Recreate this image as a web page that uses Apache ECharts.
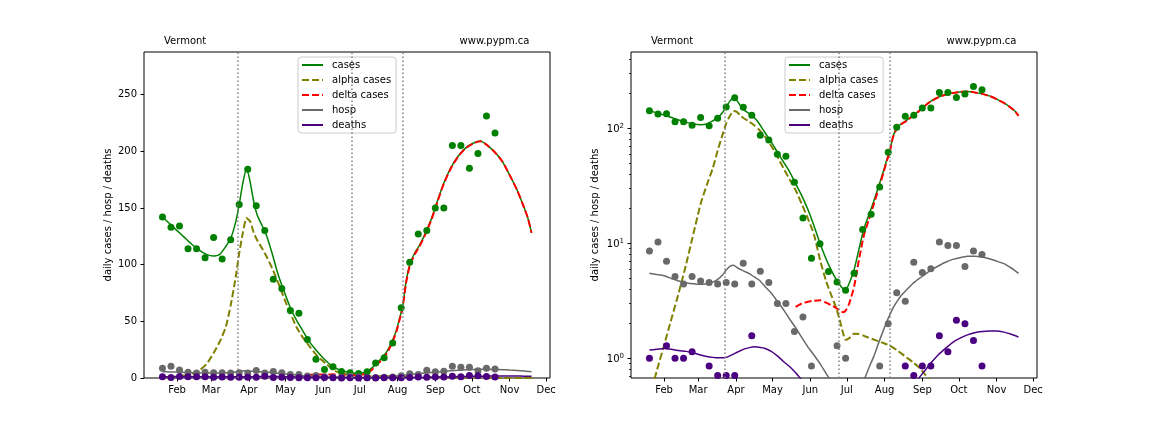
<!DOCTYPE html>
<html><head><meta charset="utf-8">
<script src="https://cdn.jsdelivr.net/npm/echarts@6/dist/echarts.min.js"></script>
<style>html,body{margin:0;padding:0;background:#fff}#c{width:1152px;height:432px}</style>
</head><body><div id="c"></div>
<script>
// ---- data (x = day of year 2021, 0 = Jan 1) ----
const monthTickDays = [31, 59, 90, 120, 151, 181, 212, 243, 273, 304, 334];
const monthTickLabels = ['Feb', 'Mar', 'Apr', 'May', 'Jun', 'Jul', 'Aug', 'Sep', 'Oct', 'Nov', 'Dec'];
const linearTicks = [0, 50, 100, 150, 200, 250];
const logMajorTicks = [1, 10, 100];
const logMinorTicks = [0.7, 0.8, 0.9, 2, 3, 4, 5, 6, 7, 8, 9, 20, 30, 40, 50, 60, 70, 80, 90, 200, 300, 400];
const breakDays = [81, 174, 216];
const legendNames = ['cases', 'alpha cases', 'delta cases', 'hosp', 'deaths'];
const regionName = 'Vermont';
const siteName = 'www.pypm.ca';
const yTitle = 'daily cases / hosp / deaths';

const dotDays = [19, 26, 33, 40, 47, 54, 61, 68, 75, 82, 89, 96, 103, 110, 117, 124, 131, 138, 145, 152,
  159, 166, 173, 180, 187, 194, 201, 208, 215, 222, 229, 236, 243, 250, 257, 264, 271, 278, 285, 292];
const casesDots = [142, 133, 134, 114, 114, 106, 124, 105, 122, 153, 184, 152, 130, 87, 79, 59.5, 57, 34, 16.6, 7.4,
  9.9, 5.7, 4.6, 3.9, 5.5, 13.2, 17.9, 30.9, 62, 102, 127, 130, 150, 150, 205, 205, 185, 198, 231, 216];
const hospDots = [8.57, 10.29, 7.0, 5.14, 4.43, 5.14, 4.71, 4.57, 4.43, 4.57, 4.43, 6.71, 4.43, 5.71, 4.57, 3.0, 3.0, 1.71, 2.29, 0.86,
  0.57, 0.43, 1.29, 1.0, 0.29, 0.43, 0.57, 0.86, 2.0, 3.71, 3.14, 6.86, 5.57, 6.0, 10.29, 9.57, 9.57, 6.29, 8.57, 8.0];
const deathsDots = [1.0, 0.43, 1.29, 1.0, 1.0, 1.14, 0.57, 0.86, 0.71, 0.71, 0.71, 0.57, 1.57, 0.43, 0.57, 0.43, 0.29, 0.29, 0.14, 0.43,
  0.14, 0, 0.14, 0, 0.14, 0, 0.29, 0.14, 0.29, 0.43, 0.86, 0.71, 0.86, 0.86, 1.57, 1.14, 2.14, 2.0, 1.43, 0.86];

const curveDays = [19, 25, 31, 37, 43, 49, 55, 61, 66, 71, 75, 79, 82, 85, 88, 91, 94, 97, 101, 105,
  109, 114, 119, 124, 129, 134, 139, 144, 149, 154, 159, 164, 168, 172, 175, 178, 180, 183, 187, 191,
  195, 199, 203, 207, 211, 214, 216, 219, 222, 226, 230, 235, 240, 245, 250, 256, 262, 268, 274, 280,
  286, 292, 298, 304, 310, 316, 319, 322];
const casesCurve = [142, 136, 130, 124, 118, 113, 109, 107.5, 109, 116, 123, 137, 153, 172, 185, 173, 155, 143, 134, 124,
  110, 91, 76, 62, 51, 42, 33, 26, 19.8, 14.3, 10.0, 7.3, 5.9, 4.9, 4.4, 4.0, 3.9, 4.5, 5.9, 8.9,
  13.3, 17.5, 23, 31, 42, 54, 62, 85, 100, 110, 117, 128, 141, 157, 172, 186, 196, 203, 207, 209,
  205, 199, 191, 179, 166, 150, 141, 128];
const alphaCurve = [0.45, 0.78, 1.3, 2.2, 3.7, 6.5, 12, 22, 32, 45, 64, 88, 110, 128, 141, 138, 128, 121, 114, 106,
  97, 84, 70, 57, 45, 36, 29, 22, 16.5, 12, 7.2, 4.7, 3.6, 2.8, 2.2, 1.65, 1.45, 1.5, 1.64, 1.63,
  1.57, 1.51, 1.46, 1.41, 1.36, 1.32, 1.29, 1.24, 1.18, 1.1, 1.02, 0.93, 0.84, 0.73, 0.63, 0.5, 0.38, 0.28, 0.2, 0.14,
  0.1, 0.07, 0.05, 0.035, 0.025, 0.017, 0.014, 0.012];
const deltaCurve = [null, null, null, null, null, null, null, null, null, null, null, null, null, null, null, null, null, null, null, null,
  null, null, null, null, null, null, 2.8, 3.0, 3.1, 3.17, 3.2, 3.05, 2.9, 2.75, 2.62, 2.52, 2.6, 3.0, 4.2, 7.2,
  11.7, 15.9, 21.5, 29.6, 40.6, 52.7, 60.7, 83.8, 98.8, 108.9, 116, 127.1, 140.2, 156.3, 171.4, 185.5, 195.6, 202.7, 206.8, 208.9,
  204.9, 198.9, 191, 179, 166, 150, 141, 128];
const hospCurve = [5.48, 5.35, 5.23, 4.95, 4.7, 4.55, 4.45, 4.4, 4.45, 4.6, 4.85, 5.3, 5.85, 6.3, 6.45, 6.15, 5.9, 5.7, 5.45, 5.1,
  4.8, 4.2, 3.7, 3.12, 2.65, 2.2, 1.85, 1.52, 1.26, 1.07, 0.9, 0.74, 0.63, 0.53, 0.47, 0.42, 0.4, 0.38, 0.41, 0.5,
  0.64, 0.82, 1.03, 1.35, 1.75, 2.1, 2.35, 2.75, 3.1, 3.55, 3.93, 4.45, 4.9, 5.35, 5.85, 6.35, 6.85, 7.25, 7.5, 7.7,
  7.72, 7.6, 7.35, 7.0, 6.65, 6.1, 5.8, 5.48];
const deathsCurve = [1.18, 1.2, 1.22, 1.2, 1.17, 1.15, 1.12, 1.07, 1.04, 1.02, 1.01, 1.01, 1.02, 1.05, 1.09, 1.13, 1.17, 1.21, 1.24, 1.26,
  1.25, 1.22, 1.15, 1.05, 0.94, 0.85, 0.75, 0.65, 0.56, 0.48, 0.41, 0.36, 0.32, 0.29, 0.27, 0.26, 0.25, 0.24, 0.235, 0.23,
  0.23, 0.235, 0.245, 0.26, 0.28, 0.3, 0.32, 0.35, 0.38, 0.43, 0.49, 0.57, 0.67, 0.78, 0.91, 1.07, 1.22, 1.38, 1.5, 1.6,
  1.67, 1.71, 1.73, 1.73, 1.69, 1.62, 1.58, 1.53];

// ---- chart ----
const FONT = 'DejaVu Sans';
const X_MIN = 3.85, X_MAX = 337.15;
const LIN_MAX = 287.5;
const LOG_MIN = 0.675, LOG_MAX = 460;

function pairs(xs, ys, isLog) {
  const out = [];
  xs.forEach((x, i) => {
    let y = ys[i];
    if (y == null || (isLog && y <= 0)) y = null;
    out.push([x, y]);
  });
  return out;
}
function dots(xs, ys, isLog) {
  return pairs(xs, ys, isLog).filter(p => p[1] != null);
}

const lineDefs = [
  { name: 'cases', ys: casesCurve, color: '#008000', width: 1.5, type: 'solid' },
  { name: 'alpha cases', ys: alphaCurve, color: '#808000', width: 2, type: [7, 3] },
  { name: 'delta cases', ys: deltaCurve, color: '#ff0000', width: 2, type: [7, 3] },
  { name: 'hosp', ys: hospCurve, color: '#696969', width: 1.5, type: 'solid' },
  { name: 'deaths', ys: deathsCurve, color: '#4b0082', width: 1.5, type: 'solid' }
];
const dotDefs = [
  { name: 'cases data', ys: casesDots, color: '#008000' },
  { name: 'hosp data', ys: hospDots, color: '#696969' },
  { name: 'deaths data', ys: deathsDots, color: '#4b0082' }
];

function panelSeries(p) {
  const isLog = p === 1;
  const yi = isLog ? 1 : 0;
  const s = [];
  lineDefs.forEach(d => {
    s.push({
      type: 'line', name: d.name, xAxisIndex: p, yAxisIndex: yi,
      data: pairs(curveDays, d.ys, isLog), symbol: 'none', smooth: 0.2,
      connectNulls: false, clip: true,
      lineStyle: { color: d.color, width: d.width, type: d.type },
      itemStyle: { color: d.color }, z: 3
    });
  });
  dotDefs.forEach((d, k) => {
    const ser = {
      type: 'scatter', name: d.name, xAxisIndex: p, yAxisIndex: yi,
      data: dots(dotDays, d.ys, isLog), symbol: 'circle', symbolSize: 7, clip: true,
      itemStyle: { color: d.color, opacity: 1 }, z: 4
    };
    if (k === 0) {
      ser.markLine = {
        silent: true, symbol: ['none', 'none'], label: { show: false }, animation: false,
        lineStyle: { color: '#808080', width: 1.5, type: [1.5, 2.5] },
        data: breakDays.map(v => ({ xAxis: v }))
      };
    }
    s.push(ser);
  });
  return s;
}

const axisText = { fontSize: 10, fontFamily: FONT, color: '#000' };

function xAxisFor(p) {
  return {
    gridIndex: p, type: 'value', min: X_MIN, max: X_MAX, position: 'bottom',
    axisLine: { show: false, onZero: false },
    splitLine: { show: false },
    axisTick: { show: true, length: 3.5, customValues: monthTickDays, lineStyle: { color: '#000', width: 1 } },
    axisLabel: Object.assign({
      customValues: monthTickDays, margin: 7,
      formatter: v => monthTickLabels[monthTickDays.indexOf(Math.round(v))] || ''
    }, axisText)
  };
}

const logLo = Math.log10(LOG_MIN), logHi = Math.log10(LOG_MAX);

const option = {
  animation: false,
  backgroundColor: '#fff',
  grid: [
    { left: 144, top: 52, width: 406, height: 326, show: true, borderColor: '#000', borderWidth: 1, backgroundColor: 'transparent' },
    { left: 631, top: 52, width: 406, height: 326, show: true, borderColor: '#000', borderWidth: 1, backgroundColor: 'transparent' }
  ],
  xAxis: [xAxisFor(0), xAxisFor(1)],
  yAxis: [
    {
      gridIndex: 0, type: 'value', min: 0, max: LIN_MAX, position: 'left',
      axisLine: { show: false, onZero: false }, splitLine: { show: false },
      axisTick: { show: true, length: 3.5, customValues: linearTicks, lineStyle: { color: '#000', width: 1 } },
      axisLabel: Object.assign({ customValues: linearTicks, margin: 7 }, axisText),
      name: yTitle, nameLocation: 'middle', nameGap: 31, nameTextStyle: axisText
    },
    {
      gridIndex: 1, type: 'log', logBase: 10, min: LOG_MIN, max: LOG_MAX, position: 'left',
      axisLine: { show: false, onZero: false }, splitLine: { show: false },
      axisTick: { show: false }, axisLabel: { show: false }
    },
    {
      gridIndex: 1, type: 'value', min: logLo, max: logHi, position: 'left',
      axisLine: { show: false, onZero: false }, splitLine: { show: false },
      axisTick: { show: true, length: 3.5, customValues: logMajorTicks.map(Math.log10), lineStyle: { color: '#000', width: 1 } },
      axisLabel: {
        customValues: logMajorTicks.map(Math.log10), margin: 7,
        formatter: v => '{b|10}{s|' + Math.round(v) + '}',
        rich: {
          b: { fontSize: 10, fontFamily: FONT, color: '#000', verticalAlign: 'bottom' },
          s: { fontSize: 7, fontFamily: FONT, color: '#000', verticalAlign: 'bottom', padding: [0, 0, 5, 0] }
        }
      },
      name: yTitle, nameLocation: 'middle', nameGap: 31, nameTextStyle: axisText
    },
    {
      gridIndex: 1, type: 'value', min: logLo, max: logHi, position: 'left',
      axisLine: { show: false, onZero: false }, splitLine: { show: false },
      axisTick: { show: true, length: 2, customValues: logMinorTicks.map(Math.log10), lineStyle: { color: '#000', width: 0.8 } },
      axisLabel: { show: false }
    }
  ],
  legend: [298, 785].map(left => ({
    orient: 'vertical', left: left, top: 57, itemWidth: 21, itemHeight: 10, itemGap: 5,
    padding: [3, 5, 3, 3], backgroundColor: 'rgba(255,255,255,0.85)',
    borderColor: '#cccccc', borderWidth: 1, borderRadius: 3, selectedMode: false,
    itemStyle: { opacity: 0 },
    textStyle: { fontSize: 10, fontFamily: FONT, color: '#000', padding: [0, 0, 0, 4] },
    data: legendNames
  })),
  graphic: [
    { type: 'text', left: 164, top: 36, style: { text: regionName, font: '10px "DejaVu Sans"', fill: '#000' } },
    { type: 'text', right: 1152 - 529.5, top: 36, style: { text: siteName, font: '10px "DejaVu Sans"', fill: '#000' } },
    { type: 'text', left: 651, top: 36, style: { text: regionName, font: '10px "DejaVu Sans"', fill: '#000' } },
    { type: 'text', right: 1152 - 1016.5, top: 36, style: { text: siteName, font: '10px "DejaVu Sans"', fill: '#000' } }
  ],
  series: panelSeries(0).concat(panelSeries(1))
};

const chart = echarts.init(document.getElementById('c'), null, { renderer: 'canvas' });
chart.setOption(option);
</script>
</body></html>
